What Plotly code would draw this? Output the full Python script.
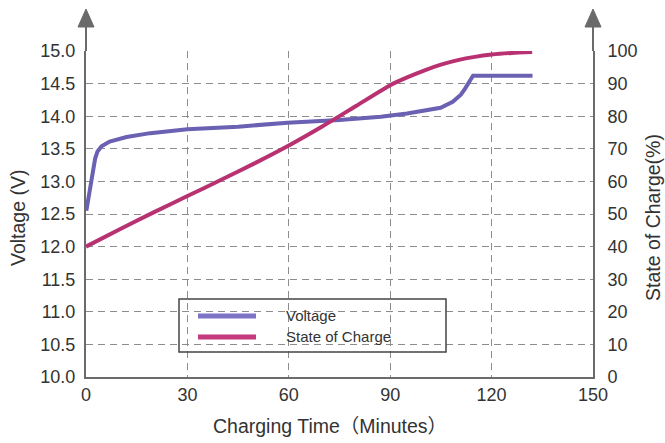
import plotly.graph_objects as go

# ---- data ----
volt_time = [0.1, 0.7, 1.3, 2.0, 2.7, 3.4, 4.6, 7, 12, 19, 30, 45, 59.6, 75, 87.2, 95,
             100, 104.9, 108.5, 110.9, 112.1, 113.3, 114.5, 120, 132.1]
volt_v = [12.55, 12.75, 12.97, 13.18, 13.35, 13.46, 13.54, 13.61, 13.68, 13.74, 13.80, 13.84,
          13.90, 13.94, 13.99, 14.04, 14.08, 14.13, 14.22, 14.33, 14.42, 14.51, 14.62, 14.62, 14.62]

soc_time = [0, 10, 20, 30, 40, 50, 60, 70, 80, 90, 95, 100, 105, 110, 115, 120, 126, 132]
soc_pct = [40, 45.3, 50.5, 55.5, 60.5, 65.6, 71.0, 76.9, 83.2, 89.5, 91.9, 94.0, 95.8, 97.2,
           98.2, 98.9, 99.4, 99.7]

x_ticks = [0, 30, 60, 90, 120, 150]
v_ticks = [10.0, 10.5, 11.0, 11.5, 12.0, 12.5, 13.0, 13.5, 14.0, 14.5, 15.0]
soc_ticks = [0, 10, 20, 30, 40, 50, 60, 70, 80, 90, 100]

names = ["Voltage", "State of Charge"]
title_x = "Charging Time（Minutes）"
title_y1 = "Voltage (V)"
title_y2 = "State of Charge(%)"

# ---- styling ----
W, H = 665, 443
L, R, T, B = 86, 593, 51, 377
FONT = "Liberation Sans, Arial, Noto Sans CJK SC, sans-serif"
TXT = "#333333"
AX = "#6a6a6a"
GRID = "#8c8c8c"
C_V = "#6a61b3"
C_S = "#b83272"
C_V_LEG = "#7d74c6"
C_S_LEG = "#c43a7d"


def px(x):
    return (x - L) / (R - L)


def py(y):
    return (B - y) / (B - T)


fig = go.Figure()
fig.add_trace(go.Scatter(x=volt_time, y=volt_v, mode="lines", name=names[0],
                         line=dict(color=C_V, width=4), yaxis="y", showlegend=False))
fig.add_trace(go.Scatter(x=soc_time, y=soc_pct, mode="lines", name=names[1],
                         line=dict(color=C_S, width=4, shape="spline", smoothing=0.6),
                         yaxis="y2", showlegend=False))

shapes = []
# axis extensions and arrows
for ax_x in (L, R):
    shapes.append(dict(type="line", xref="paper", yref="paper", x0=px(ax_x), x1=px(ax_x),
                       y0=1, y1=py(25), line=dict(color=AX, width=2), layer="above"))
    shapes.append(dict(type="path", xref="paper", yref="paper",
                       path=f"M {px(ax_x-8)} {py(27)} L {px(ax_x+8)} {py(27)} L {px(ax_x)} {py(9)} Z",
                       fillcolor=AX, line=dict(color=AX, width=1), layer="above"))
# legend box
shapes.append(dict(type="rect", xref="paper", yref="paper", x0=px(179), x1=px(446),
                   y0=py(352), y1=py(299), line=dict(color="#444444", width=1.5),
                   fillcolor="rgba(0,0,0,0)", layer="above"))
shapes.append(dict(type="line", xref="paper", yref="paper", x0=px(198), x1=px(256),
                   y0=py(316), y1=py(316), line=dict(color=C_V_LEG, width=5), layer="above"))
shapes.append(dict(type="line", xref="paper", yref="paper", x0=px(198), x1=px(256),
                   y0=py(337), y1=py(337), line=dict(color=C_S_LEG, width=5), layer="above"))

annotations = [
    dict(text=names[0], xref="paper", yref="paper", x=px(284), y=py(315), xanchor="left",
         yanchor="middle", showarrow=False, font=dict(family=FONT, size=15, color=TXT)),
    dict(text=names[1], xref="paper", yref="paper", x=px(284), y=py(336), xanchor="left",
         yanchor="middle", showarrow=False, font=dict(family=FONT, size=15, color=TXT)),
    dict(text=title_x, xref="paper", yref="paper", x=px(330), y=py(426), xanchor="center",
         yanchor="middle", showarrow=False, font=dict(family=FONT, size=19.5, color=TXT)),
    dict(text=title_y1, xref="paper", yref="paper", x=px(18), y=py(218), xanchor="center",
         yanchor="middle", textangle=-90, showarrow=False,
         font=dict(family=FONT, size=19.5, color=TXT)),
    dict(text=title_y2, xref="paper", yref="paper", x=px(653), y=py(218), xanchor="center",
         yanchor="middle", textangle=-90, showarrow=False,
         font=dict(family=FONT, size=19.5, color=TXT)),
]

fig.update_layout(
    width=W, height=H, autosize=False,
    margin=dict(l=L, r=W - R, t=T, b=H - B, pad=0),
    paper_bgcolor="white", plot_bgcolor="white",
    font=dict(family=FONT, size=18, color=TXT),
    showlegend=False,
    xaxis=dict(range=[0, 150], tickvals=x_ticks, ticktext=[str(v) for v in x_ticks],
               showgrid=True, gridcolor=GRID, gridwidth=1, griddash="7px,5px",
               showline=True, linecolor=AX, linewidth=2, zeroline=False, ticks="",
               ticklabelstandoff=0, tickfont=dict(size=18, color=TXT)),
    yaxis=dict(range=[10, 15], tickvals=v_ticks, ticktext=[f"{v:.1f}" for v in v_ticks],
               showgrid=True, gridcolor=GRID, gridwidth=1, griddash="7px,5px",
               showline=True, linecolor=AX, linewidth=2, zeroline=False, ticks="",
               ticklabelstandoff=5, tickfont=dict(size=18, color=TXT)),
    yaxis2=dict(range=[0, 100], tickvals=soc_ticks, ticktext=[str(v) for v in soc_ticks],
                overlaying="y", side="right", showgrid=False,
                showline=True, linecolor=AX, linewidth=2, zeroline=False, ticks="",
                ticklabelstandoff=9, tickfont=dict(size=18, color=TXT)),
    shapes=shapes, annotations=annotations,
)

fig.write_html("out.html", config={"displayModeBar": False},
               post_script="document.body.style.margin='0';document.body.style.overflow='hidden';")
